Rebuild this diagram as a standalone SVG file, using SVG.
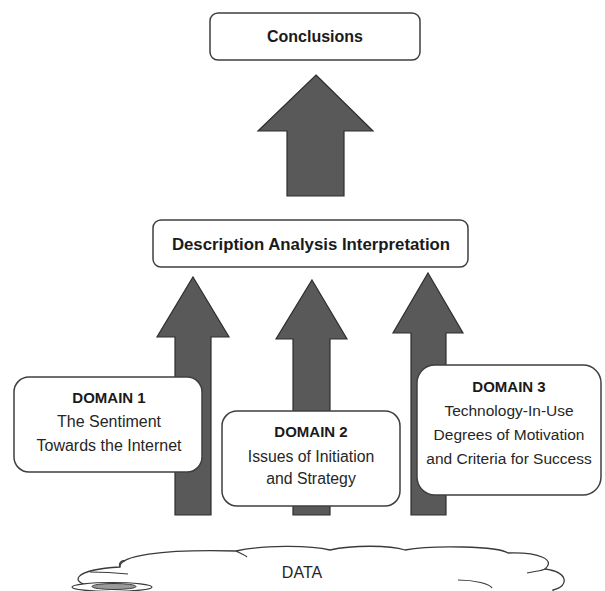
<svg xmlns="http://www.w3.org/2000/svg" width="605" height="591" viewBox="0 0 605 591">
<style>
.arrow{fill:#595959;stroke:#2e2e2e;stroke-width:1.2;stroke-linejoin:miter}
.box{fill:#ffffff;stroke:#3f3f3f;stroke-width:1.5}
.t{font-family:"Liberation Sans",Arial,sans-serif;fill:#262626;text-anchor:middle}
.b{font-weight:bold;fill:#1a1a1a}
.cloud{fill:#ffffff;stroke:#3a3a3a;stroke-width:1.3}
</style>
<rect width="605" height="591" fill="#ffffff"/>
<g id="connectors">
<polygon class="arrow" points="316,75 373,131 344,131 344,196 287,196 287,131 258,131"/>
<polygon class="arrow" points="193,277 229,337 211,337 211,515 175,515 175,337 157,337"/>
<polygon class="arrow" points="312,280 347,339 330,339 330,515 293,515 293,339 276,339"/>
<polygon class="arrow" points="428,273 463,333 446,333 446,515 411,515 411,333 393,333"/>
</g>
<g id="conclusions">
<rect class="box" x="210" y="13" width="210" height="47" rx="8"/>
<text class="t b" x="315" y="42" font-size="16">Conclusions</text>
</g>
<g id="description">
<rect class="box" x="153" y="220" width="315" height="47" rx="8"/>
<text class="t b" x="311" y="250" font-size="16.8">Description Analysis Interpretation</text>
</g>
<g id="domain1">
<rect class="box" x="14" y="377" width="188" height="95" rx="15"/>
<text class="t b" x="109" y="403" font-size="15">DOMAIN 1</text>
<text class="t" x="109" y="427" font-size="16">The Sentiment</text>
<text class="t" x="109" y="451" font-size="16">Towards the Internet</text>
</g>
<g id="domain2">
<rect class="box" x="222" y="411" width="178" height="95" rx="15"/>
<text class="t b" x="311" y="437" font-size="15">DOMAIN 2</text>
<text class="t" x="311" y="462" font-size="15.8">Issues of Initiation</text>
<text class="t" x="311" y="484" font-size="15.8">and Strategy</text>
</g>
<g id="domain3">
<rect class="box" x="417" y="365" width="184" height="130" rx="18"/>
<text class="t b" x="509" y="392" font-size="15">DOMAIN 3</text>
<text class="t" x="509" y="416" font-size="15.5">Technology-In-Use</text>
<text class="t" x="509" y="440" font-size="15.5">Degrees of Motivation</text>
<text class="t" x="509" y="464" font-size="15.5">and Criteria for Success</text>
</g>
<g id="data">
<path class="cloud" d="M 90 586 C 70 582 72 570 120 567 C 118 556 160 549 236 551 C 262 545 310 545 330 550 C 352 545 390 545 405 550 C 432 545 498 546 508 553 C 540 552 556 560 545 569 C 568 572 570 586 553 590 L 553 600 L 90 600 Z"/>
<path d="M 120 567 C 118 562 123 560 125 561" fill="none" stroke="#3a3a3a" stroke-width="1.2"/>
<path d="M 236 551 C 240 553 245 555 247 557" fill="none" stroke="#3a3a3a" stroke-width="1.2"/>
<path d="M 458 580 C 475 580 490 584 492 588" fill="none" stroke="#3a3a3a" stroke-width="1.2"/>
<path d="M 527 573 C 535 571 542 571 545 569" fill="none" stroke="#3a3a3a" stroke-width="1.2"/>
<path d="M 90 572 C 100 572 118 573 128 574" fill="none" stroke="#3a3a3a" stroke-width="1.2"/>
<ellipse cx="112" cy="587" rx="40" ry="4.5" fill="#ffffff" stroke="#3a3a3a" stroke-width="1.2"/>
<ellipse cx="114" cy="586.5" rx="22" ry="3" fill="#9a9a9a" stroke="#3a3a3a" stroke-width="1"/>
<text class="t" x="302" y="578" font-size="16">DATA</text>
</g>
</svg>
